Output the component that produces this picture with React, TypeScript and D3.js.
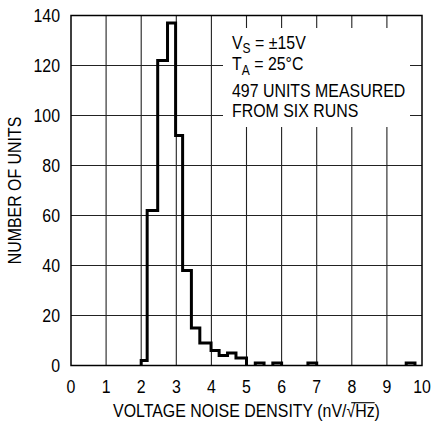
import React, { useEffect, useRef, useState } from "react";
import * as d3 from "d3";

const binStart = [2.0, 2.17, 2.47, 2.75, 2.98, 3.18, 3.43, 3.67, 3.99, 4.22, 4.46, 4.70, 5.25, 5.75, 6.75, 9.55];
const binEnd = [2.17, 2.47, 2.75, 2.98, 3.18, 3.43, 3.67, 3.99, 4.22, 4.46, 4.70, 5.0, 5.5, 6.0, 7.0, 9.8];
const counts = [2, 62, 122, 137, 92, 38, 15, 9, 6, 4, 5, 3, 1, 1, 1, 1];

const xTicks = [0, 1, 2, 3, 4, 5, 6, 7, 8, 9, 10];
const yTicks = [0, 20, 40, 60, 80, 100, 120, 140];

const W = 433;
const H = 422;
const M = { left: 71, right: 11, top: 15.5, bottom: 56.5 };
const FONT = "'Liberation Sans', Arial, Helvetica, sans-serif";
const FS = 18.5;
const SX = 0.86;

function T({ x, y, anchor = "start", rotate = 0, size = FS, children, extra }: any) {
  return (
    <g transform={`translate(${x},${y}) rotate(${rotate}) scale(${SX},1)`}>
      <text x={0} y={0} textAnchor={anchor} fontSize={size}>
        {children}
      </text>
      {extra}
    </g>
  );
}

export default function App() {
  const x = d3.scaleLinear().domain([0, 10]).range([M.left, W - M.right]);
  const y = d3.scaleLinear().domain([0, 140]).range([H - M.bottom, M.top]);

  const radRef = useRef<SVGTSpanElement>(null);
  const [rad, setRad] = useState<{ x1: number; x2: number } | null>(null);
  useEffect(() => {
    const el = radRef.current as any;
    if (!el) return;
    try {
      const n = el.getNumberOfChars();
      const a = el.getExtentOfChar(0);
      const b = el.getExtentOfChar(n - 1);
      setRad({ x1: a.x + a.width * 0.55, x2: b.x + b.width });
    } catch (e) {
      /* ignore */
    }
  }, []);

  const groups: [number, number][][] = [];
  let cur: [number, number][] = [];
  for (let i = 0; i < counts.length; i++) {
    if (i === 0 || Math.abs(binStart[i] - binEnd[i - 1]) > 1e-6) {
      if (cur.length) {
        cur.push([binEnd[i - 1], 0]);
        groups.push(cur);
      }
      cur = [[binStart[i], 0]];
    }
    cur.push([binStart[i], counts[i]]);
    cur.push([binEnd[i], counts[i]]);
  }
  cur.push([binEnd[counts.length - 1], 0]);
  groups.push(cur);

  const line = d3
    .line<[number, number]>()
    .x((d) => x(d[0]))
    .y((d) => y(d[1]));

  const boxL = 223, boxR = 410, boxT = 28, boxB = 127;
  const cx = (x(0) + x(10)) / 2;
  const cy = (y(0) + y(140)) / 2;

  return (
    <svg width={W} height={H} style={{ position: "absolute", left: 0, top: 0 }} fontFamily={FONT}>
      <rect width={W} height={H} fill="#fff" />
      {xTicks.slice(1, -1).map((t) => (
        <line key={"vx" + t} x1={x(t)} x2={x(t)} y1={y(0)} y2={y(140)} stroke="#222" strokeWidth={1.1} />
      ))}
      {yTicks.slice(1, -1).map((t) => (
        <line key={"hy" + t} x1={x(0)} x2={x(10)} y1={y(t)} y2={y(t)} stroke="#222" strokeWidth={1.1} />
      ))}
      <rect x={boxL} y={boxT} width={boxR - boxL} height={boxB - boxT} fill="#fff" />
      <rect x={x(0)} y={y(140)} width={x(10) - x(0)} height={y(0) - y(140)} fill="none" stroke="#000" strokeWidth={1.5} />
      {groups.map((g, i) => (
        <path key={i} d={line(g) || ""} fill="none" stroke="#000" strokeWidth={3} strokeLinejoin="miter" />
      ))}
      {yTicks.map((t) => (
        <T key={"yl" + t} x={60} y={y(t) + 6.6} anchor="end">
          {t}
        </T>
      ))}
      {xTicks.map((t) => (
        <T key={"xl" + t} x={x(t)} y={393} anchor="middle">
          {t}
        </T>
      ))}
      <T
        x={cx}
        y={417}
        anchor="middle"
        extra={rad ? <line x1={rad.x1} x2={rad.x2} y1={-14.3} y2={-14.3} stroke="#000" strokeWidth={1.1} /> : null}
      >
        VOLTAGE NOISE DENSITY (nV/
        <tspan ref={radRef}>√Hz</tspan>)
      </T>
      <T x={21} y={cy} anchor="middle" rotate={-90}>
        NUMBER OF UNITS
      </T>
      <T x={232} y={48.5}>
        V<tspan fontSize={14} dy={4.5}>S</tspan>
        <tspan dy={-4.5}> = ±15V</tspan>
      </T>
      <T x={232} y={70}>
        T<tspan fontSize={14} dy={4.5}>A</tspan>
        <tspan dy={-4.5}> = 25°C</tspan>
      </T>
      <T x={232} y={96.7}>497 UNITS MEASURED</T>
      <T x={232} y={116.7}>FROM SIX RUNS</T>
    </svg>
  );
}
